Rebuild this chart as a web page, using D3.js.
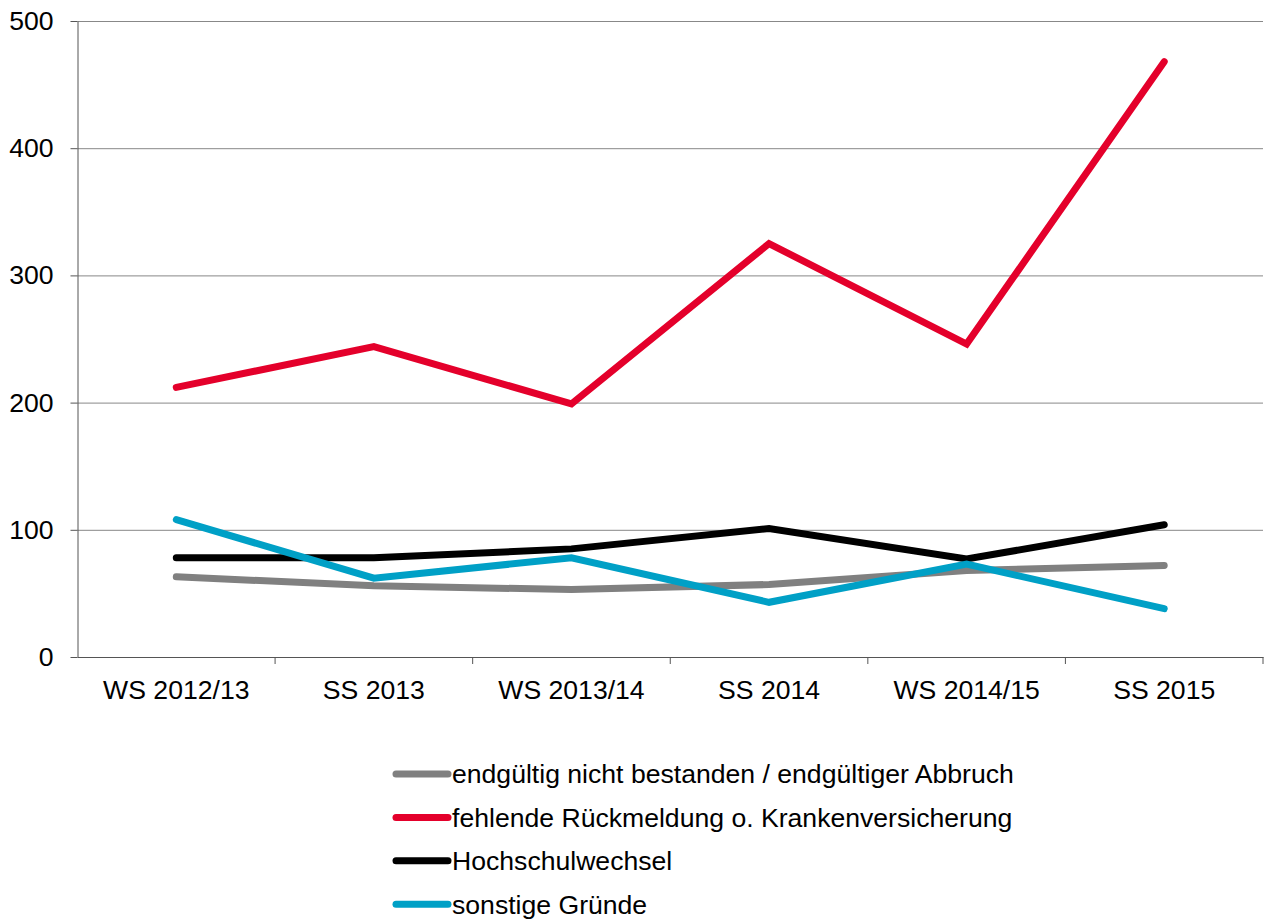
<!DOCTYPE html>
<html>
<head>
<meta charset="utf-8">
<script src="https://cdn.jsdelivr.net/npm/d3@7"></script>
<style>
  body { margin: 0; background: #fff; }
  svg { font-family: "Liberation Sans", Arial, sans-serif; }
</style>
</head>
<body>
<div id="chart"></div>
<script>
const categories = ["WS 2012/13", "SS 2013", "WS 2013/14", "SS 2014", "WS 2014/15", "SS 2015"];
const abbruch = [63, 56, 53, 57, 68, 72];
const rueckmeldung = [212, 244, 199, 325, 246, 468];
const wechsel = [78, 78, 85, 101, 77, 104];
const sonstige = [108, 62, 78, 43, 73, 38];
const yTicks = [0, 100, 200, 300, 400, 500];

const series = [
    { name: "endgültig nicht bestanden / endgültiger Abbruch", values: abbruch, color: "#808080" },
    { name: "fehlende Rückmeldung o. Krankenversicherung", values: rueckmeldung, color: "#e4002b" },
    { name: "Hochschulwechsel", values: wechsel, color: "#000000" },
    { name: "sonstige Gründe", values: sonstige, color: "#00a0c6" }
];

let fullWidth = 1264, fullHeight = 920;
let margin = { top: 21, right: 1, bottom: 263, left: 77.5 };
let width = fullWidth - margin.left - margin.right;
let height = fullHeight - margin.top - margin.bottom;
let fontSize = "26.6px";

let svg = d3.select("#chart")
    .append("svg")
    .attr("width", fullWidth)
    .attr("height", fullHeight)
    .append("g")
    .attr("transform", `translate(${margin.left},${margin.top})`);

let x = d3.scaleBand()
    .domain(categories)
    .range([0, width]);

let y = d3.scaleLinear()
    .domain([0, 500])
    .range([height, 0]);

// horizontal grid
svg.append("g")
    .attr("class", "grid")
    .call(d3.axisLeft(y).tickValues(yTicks).tickSize(-width).tickFormat(""))
    .call(g => g.select(".domain").remove())
    .selectAll("line")
    .attr("stroke", "#888")
    .attr("stroke-width", 1);

// y axis
svg.append("g")
    .call(d3.axisLeft(y).tickValues(yTicks).tickSize(7).tickSizeOuter(0).tickPadding(17))
    .call(g => g.selectAll("text").style("font-size", fontSize).style("fill", "#000"));

// x axis with ticks at band edges
let xAxis = svg.append("g")
    .attr("transform", `translate(0,${height})`);
xAxis.call(d3.axisBottom(x).tickSize(0).tickSizeOuter(0).tickPadding(23))
    .selectAll("text")
    .style("font-size", fontSize)
    .style("fill", "#000");
xAxis.selectAll(".edge")
    .data(categories.slice(1).concat(["__end"]))
    .enter()
    .append("line")
    .attr("class", "edge")
    .attr("x1", (d, i) => i < categories.length - 1 ? x(d) : width)
    .attr("x2", (d, i) => i < categories.length - 1 ? x(d) : width)
    .attr("y1", 0)
    .attr("y2", 7)
    .attr("stroke", "#555");

svg.selectAll(".domain")
    .attr("stroke", "#555")
    .attr("stroke-width", 1);
svg.selectAll(".tick line").filter(function() { return !this.closest(".grid"); })
    .attr("stroke", "#555");

let line = d3.line()
    .x((d, i) => x(categories[i]) + x.bandwidth() / 2)
    .y(d => y(d));

svg.selectAll(".series")
    .data(series)
    .enter()
    .append("path")
    .attr("class", "series")
    .attr("d", d => line(d.values))
    .attr("fill", "none")
    .attr("stroke", d => d.color)
    .attr("stroke-width", 7)
    .attr("stroke-linecap", "round")
    .attr("stroke-linejoin", "miter");

// legend
let legend = d3.select("svg").append("g")
    .attr("transform", "translate(396,774)");
let items = legend.selectAll(".item")
    .data(series)
    .enter()
    .append("g")
    .attr("transform", (d, i) => `translate(0,${i * 43.4})`);
items.append("line")
    .attr("x1", 0).attr("x2", 52)
    .attr("y1", 0).attr("y2", 0)
    .attr("stroke", d => d.color)
    .attr("stroke-width", 7)
    .attr("stroke-linecap", "round");
items.append("text")
    .attr("x", 56)
    .attr("y", 0)
    .attr("dy", "0.35em")
    .style("font-size", fontSize)
    .text(d => d.name);
</script>
</body>
</html>
